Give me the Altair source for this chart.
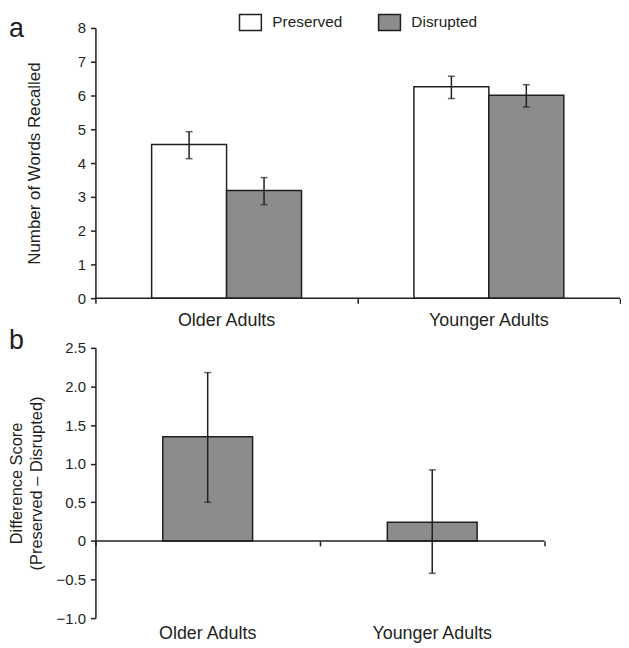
import altair as alt
import pandas as pd

# ---------------- data ----------------
groups = ["Older Adults", "Younger Adults"]
conditions = ["Preserved", "Disrupted"]

# panel a: rows = (group, condition)
recall_group = ["Older Adults", "Older Adults", "Younger Adults", "Younger Adults"]
recall_condition = ["Preserved", "Disrupted", "Preserved", "Disrupted"]
recall_mean = [4.55, 3.19, 6.26, 6.01]
recall_low = [4.13, 2.77, 5.91, 5.66]
recall_high = [4.93, 3.57, 6.57, 6.32]
recall_ticks = [0, 1, 2, 3, 4, 5, 6, 7, 8]

# panel b
diff_mean = [1.35, 0.24]
diff_low = [0.50, -0.42]
diff_high = [2.18, 0.92]
diff_ticks = [-1.0, -0.5, 0.0, 0.5, 1.0, 1.5, 2.0, 2.5]

# ---------------- style ----------------
FONT = "Liberation Sans"
INK = "#231f20"
GRAY = "#8b8c8e"
W, H = 528, 272
LABEL_SIZE = 27

df_a = pd.DataFrame({"group": recall_group, "condition": recall_condition,
                     "mean": recall_mean, "low": recall_low, "high": recall_high})
df_b = pd.DataFrame({"group": groups, "mean": diff_mean, "low": diff_low, "high": diff_high})
edges = pd.DataFrame({"start": [0], "end": [len(groups)]})


def y_axis(values, title, title_pad, title_size, label_expr=None, fmt=None):
    kw = dict(values=values, title=title, titleFont=FONT, titleFontSize=title_size,
              titleFontWeight="normal", titleColor=INK, titlePadding=title_pad,
              titleLineHeight=19.5, tickCount=len(values),
              labelFont=FONT, labelFontSize=15, labelColor=INK, labelPadding=5,
              labelOverlap=False,
              tickSize=5, tickColor=INK, tickWidth=1.5, domainColor=INK,
              domainWidth=1.5, grid=False)
    if label_expr:
        kw["labelExpr"] = label_expr
    if fmt:
        kw["format"] = fmt
    return alt.Axis(**kw)


def baseline_layer(offset, yscale, yaxis):
    return alt.Chart(edges).mark_rule(color=INK, strokeWidth=1.5).encode(
        x=alt.X("start:Q", scale=alt.Scale(domain=[0, len(groups)], nice=False, zero=False),
                axis=alt.Axis(values=list(range(len(groups) + 1)), labels=False, domain=False,
                              ticks=True, tickSize=5, tickColor=INK, tickWidth=1.5,
                              title=None, orient="bottom", offset=offset, grid=False)),
        x2="end:Q",
        y=alt.YDatum(0, scale=yscale, axis=yaxis),
    )


def panel_label(letter, top):
    return alt.Chart(pd.DataFrame({"panel": [letter]})).mark_text(
        align="left", baseline="top", fontSize=LABEL_SIZE, font=FONT, color=INK
    ).encode(text="panel:N", x=alt.value(-87), y=alt.value(top))


# ---------------- panel a ----------------
ya_axis = y_axis(recall_ticks, "Number of Words Recalled", 34, 17, fmt="d")
ya_scale = alt.Scale(domain=[0, 8], nice=False)

base_a = alt.Chart(df_a).encode(
    x=alt.X("group:N", sort=groups,
            scale=alt.Scale(domain=groups, paddingInner=0, paddingOuter=0),
            axis=alt.Axis(title=None, domain=False, ticks=False, labelAngle=0,
                          labelPadding=13, labelFontSize=18, labelFont=FONT,
                          labelColor=INK, orient="bottom", grid=False)),
    xOffset=alt.XOffset("condition:N", sort=conditions,
                        scale=alt.Scale(domain=conditions, paddingInner=0, paddingOuter=0.75)),
)

bars_a = base_a.mark_bar(stroke=INK, strokeWidth=1.5).encode(
    y=alt.Y("mean:Q", scale=ya_scale, axis=ya_axis),
    color=alt.Color("condition:N", sort=conditions,
                    scale=alt.Scale(domain=conditions, range=["#ffffff", GRAY]),
                    legend=alt.Legend(title=None, orient="none", legendX=144, legendY=-18,
                                      direction="horizontal", symbolType="M-1,-0.73H1V0.73H-1Z",
                                      symbolSize=484, symbolStrokeColor=INK,
                                      symbolStrokeWidth=1.5, labelFont=FONT,
                                      labelFontSize=15.5, labelColor=INK, labelOffset=10,
                                      columnPadding=33, padding=0)),
)
err_a = base_a.mark_rule(color=INK, strokeWidth=1.5).encode(
    y=alt.Y("low:Q", scale=ya_scale, axis=ya_axis), y2="high:Q")
cap_lo_a = base_a.mark_tick(color=INK, thickness=1.5, size=7).encode(
    y=alt.Y("low:Q", scale=ya_scale, axis=ya_axis))
cap_hi_a = base_a.mark_tick(color=INK, thickness=1.5, size=7).encode(
    y=alt.Y("high:Q", scale=ya_scale, axis=ya_axis))

panel_a = alt.layer(
    alt.layer(bars_a, err_a, cap_lo_a, cap_hi_a),
    baseline_layer(0, ya_scale, ya_axis),
    panel_label("a", -12),
).resolve_scale(x="independent").properties(width=W, height=H)

# ---------------- panel b ----------------
yb_axis = y_axis(diff_ticks, ["Difference Score", "(Preserved – Disrupted)"], 12, 16.5,
                 label_expr="datum.value == 0 ? '0' : format(datum.value, '.1f')")
yb_scale = alt.Scale(domain=[-1, 2.5], nice=False, zero=False)

base_b = alt.Chart(df_b).encode(
    x=alt.X("group:N", sort=groups,
            scale=alt.Scale(domain=groups, paddingInner=0.6, paddingOuter=0.3),
            axis=alt.Axis(title=None, domain=False, ticks=False, labelAngle=0,
                          labelPadding=7, labelFontSize=18, labelFont=FONT,
                          labelColor=INK, orient="bottom", grid=False)),
)
bars_b = base_b.mark_bar(stroke=INK, strokeWidth=1.5, color=GRAY).encode(
    y=alt.Y("mean:Q", scale=yb_scale, axis=yb_axis))
err_b = base_b.mark_rule(color=INK, strokeWidth=1.5).encode(
    y=alt.Y("low:Q", scale=yb_scale, axis=yb_axis), y2="high:Q")
cap_lo_b = base_b.mark_tick(color=INK, thickness=1.5, size=7).encode(
    y=alt.Y("low:Q", scale=yb_scale, axis=yb_axis))
cap_hi_b = base_b.mark_tick(color=INK, thickness=1.5, size=7).encode(
    y=alt.Y("high:Q", scale=yb_scale, axis=yb_axis))

zero_offset = -H * (0 - (-1)) / (2.5 - (-1))
panel_b = alt.layer(
    alt.layer(bars_b, err_b, cap_lo_b, cap_hi_b),
    baseline_layer(zero_offset, yb_scale, yb_axis),
    panel_label("b", -19.5),
).resolve_scale(x="independent").properties(width=452, height=H)

chart = alt.vconcat(panel_a, panel_b, spacing=50, bounds="flush").resolve_legend(
    color="independent"
).properties(
    padding=0
).configure(
    background="white", view=alt.ViewConfig(stroke=None, strokeWidth=0)
)

chart.save("out.html", embed_options={"renderer": "svg", "actions": False})
